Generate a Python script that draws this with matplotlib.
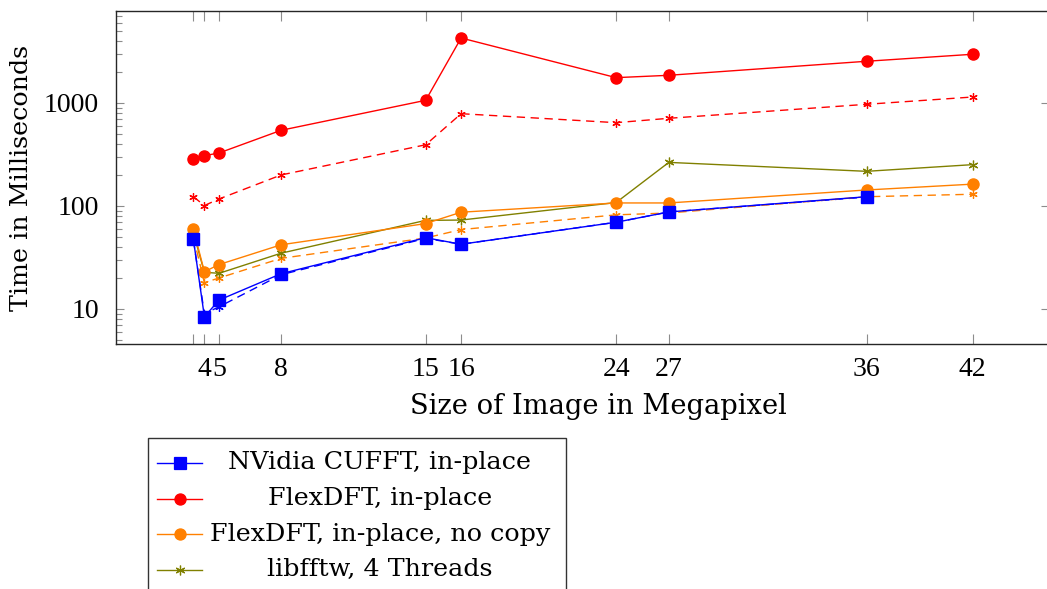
import numpy as np
import matplotlib.pyplot as plt
from matplotlib.lines import Line2D
from matplotlib.patches import Rectangle
from matplotlib.ticker import FixedLocator, NullFormatter, LogLocator

plt.rcParams['font.family'] = ['Liberation Serif', 'DejaVu Serif']
TXT = ['DejaVu Serif']

# image size in megapixel (positions), tick labels as printed
mpix = [3.69, 4.23, 4.95, 8.0, 15.11, 16.85, 24.47, 27.06, 36.78, 42.0]
mpix_labels = ['', '4', '5', '8', '15', '16', '24', '27', '36', '42']

# time in milliseconds
cufft = [47.3, 8.4, 12.2, 22.0, 49.2, 42.5, 69.5, 87.5, 123]
cufft_dash = [46.5, 9.0, 10.5, 21.5, 48.5, 42.5, 69.5, 87.5, 122]
flex = [286, 308, 327, 543, 1062, 4276, 1762, 1857, 2541, 2972]
flex_dash = [123, 101, 117, 200, 393, 787, 644, 710, 971, 1143]
nocopy = [59.4, 23.0, 27.0, 42.0, 67.5, 87.0, 107, 107, 143, 163]
nocopy_dash = [50, 18.0, 20.0, 31.0, 48.9, 59.0, 82.0, 85.5, 123, 130]
fftw4 = [55, 22.7, 22.2, 34.8, 72.5, 73.0, 108, 265, 217, 252]

labels = ['NVidia CUFFT, in-place', 'FlexDFT, in-place',
          'FlexDFT, in-place, no copy', 'libfftw, 4 Threads']

BLUE = (0, 0, 1)
RED = (1, 0, 0)
ORANGE = (1, 0.5, 0)
OLIVE = (0.5, 0.5, 0)
ast = (6, 2, 0)

W, H = 1047, 589
fig = plt.figure(figsize=(W / 100, H / 100), dpi=100)
ax = fig.add_axes([115.7 / W, 1 - 344.3 / H, (1049 - 115.7) / W, (344.3 - 10.7) / H])

lw = 1.0
ds = (6, 4)
n = len(cufft)
ax.plot(mpix[:n], cufft_dash, color=BLUE, lw=lw, dashes=ds, marker=ast, ms=6, mew=0.9)
ax.plot(mpix, flex_dash, color=RED, lw=lw, dashes=ds, marker=ast, ms=6, mew=0.9)
ax.plot(mpix, nocopy_dash, color=ORANGE, lw=lw, dashes=ds, marker=ast, ms=6, mew=0.9)
ax.plot(mpix, fftw4, color=OLIVE, lw=lw, marker=ast, ms=7, mew=0.9)
ax.plot(mpix, nocopy, color=ORANGE, lw=lw, marker='o', ms=8)
ax.plot(mpix, flex, color=RED, lw=lw, marker='o', ms=8)
ax.plot(mpix[:n], cufft, color=BLUE, lw=lw, marker='s', ms=8)

ax.set_yscale('log')
ax.set_xlim(-0.13, 45.75)
ax.set_ylim(4.54, 7870)

ax.xaxis.set_major_locator(FixedLocator(mpix))
ax.set_xticklabels(mpix_labels)
ax.yaxis.set_major_locator(FixedLocator([10, 100, 1000]))
ax.set_yticklabels(['10', '100', '1000'])
ax.yaxis.set_minor_locator(LogLocator(base=10, subs=np.arange(2, 10)))
ax.yaxis.set_minor_formatter(NullFormatter())

ax.tick_params(axis='x', which='major', direction='in', top=True, length=7.5,
               width=0.8, color='0.55', labelsize=20, pad=9)
ax.tick_params(axis='y', which='major', direction='in', right=True, length=6,
               width=0.8, color='0.55', labelsize=20, pad=12)
ax.tick_params(axis='y', which='minor', direction='in', left=True, right=False,
               length=4, width=0.8, color='0.55')
for s in ax.spines.values():
    s.set_linewidth(1.0)
    s.set_color('0.15')

ax.set_xlabel('Size of Image in Megapixel', fontsize=19.7, family=TXT)
ax.xaxis.set_label_coords((598 - 115.7) / (1049 - 115.7), -(393 - 344.3) / (344.3 - 10.7))
ax.set_ylabel('Time in Milliseconds', fontsize=18.3, family=TXT, labelpad=8)

# legend below the plot, cut off by the bottom of the image
def fx(px):
    return px / W

def fy(py):
    return 1 - py / H

fig.patches.append(Rectangle((fx(148), fy(610)), fx(566) - fx(148), fy(438) - fy(610),
                             transform=fig.transFigure, fill=False, lw=1.0,
                             edgecolor='0.2', clip_on=False))
styles = [(BLUE, 's', 8), (RED, 'o', 8), (ORANGE, 'o', 8), (OLIVE, ast, 7)]
for i, (lab, (c, m, ms)) in enumerate(zip(labels, styles)):
    yy = fy(463 + 35.5 * i)
    fig.lines.append(Line2D([fx(157), fx(202)], [yy, yy], color=c, lw=lw,
                            transform=fig.transFigure))
    fig.lines.append(Line2D([fx(179.5)], [yy], color=c, marker=m, ms=ms,
                            mew=0.9, transform=fig.transFigure))
    fig.text(fx(380), yy, lab, ha='center', va='center', fontsize=18.3, family=TXT)

fig.savefig('out.png', dpi=100)
